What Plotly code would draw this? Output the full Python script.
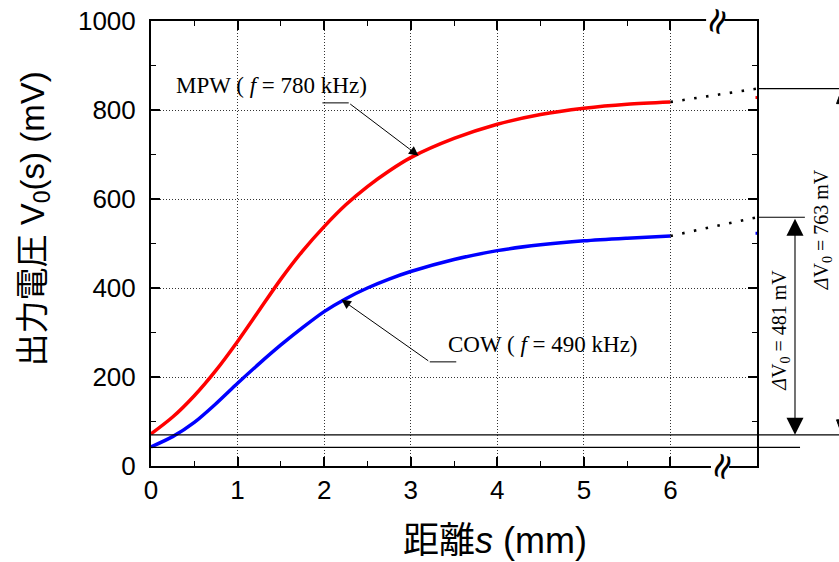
import plotly.graph_objects as go

# ---- data ----
s_mm = [0, 0.25, 0.5, 0.75, 1.0, 1.25, 1.5, 1.75, 2.0, 2.25, 2.5, 2.75, 3.0,
        3.5, 4.0, 4.5, 5.0, 5.5, 6.0]
mpw_mv = [72, 110, 158, 215, 280, 350, 420, 483, 538, 587, 628, 663, 693,
          736, 768, 790, 804, 813, 818]
cow_mv = [43, 66, 98, 140, 186, 230, 272, 311, 347, 376, 400, 420, 437,
          464, 484, 497, 506, 512, 517]

ext_s = [6, 7]
mpw_ext = [818, 848]
cow_ext = [517, 559]

stub_s = [7]
mpw_stub = [828]
cow_stub = [523]

low_levels = [70, 42]      # MPW, COW start levels
high_levels = [848, 559]   # MPW, COW saturated levels
delta_labels = ["<i>Δ</i>V<sub>0</sub> = 763 mV", "<i>Δ</i>V<sub>0</sub> = 481 mV"]

x_ticks = [0, 1, 2, 3, 4, 5, 6]
x_minor = [0.5, 1.5, 2.5, 3.5, 4.5, 5.5]
y_ticks = [0, 200, 400, 600, 800, 1000]

RED = "#ff0000"
BLUE = "#0000ff"
SANS = "Liberation Sans, Arial, Noto Sans CJK JP"
SERIF = "Liberation Serif, Times New Roman, serif"

fig = go.Figure()

fig.add_trace(go.Scatter(x=s_mm, y=mpw_mv, mode="lines",
                         line=dict(color=RED, width=3.5, shape="spline", smoothing=0.8),
                         showlegend=False))
fig.add_trace(go.Scatter(x=s_mm, y=cow_mv, mode="lines",
                         line=dict(color=BLUE, width=3.5, shape="spline", smoothing=0.8),
                         showlegend=False))
for ys in (mpw_ext, cow_ext):
    fig.add_trace(go.Scatter(x=ext_s, y=ys, mode="lines",
                             line=dict(color="black", width=2.6, dash="2.5px,9.5px"),
                             showlegend=False))
fig.add_trace(go.Scatter(x=stub_s, y=mpw_stub, mode="markers", cliponaxis=False,
                         marker=dict(color=RED, size=3, symbol="square"), showlegend=False))
fig.add_trace(go.Scatter(x=stub_s, y=cow_stub, mode="markers", cliponaxis=False,
                         marker=dict(color=BLUE, size=3, symbol="square"), showlegend=False))

shapes = []
LW = dict(color="black", width=1.2)
shapes.append(dict(type="line", xref="paper", yref="y", x0=0, x1=1.25,
                   y0=low_levels[0], y1=low_levels[0], line=LW))
shapes.append(dict(type="line", xref="paper", yref="y", x0=0, x1=1.071,
                   y0=low_levels[1], y1=low_levels[1], line=LW))
shapes.append(dict(type="line", xref="paper", yref="y", x0=1, x1=1.25,
                   y0=high_levels[0], y1=high_levels[0], line=LW))
shapes.append(dict(type="line", xref="paper", yref="y", x0=1, x1=1.079,
                   y0=high_levels[1], y1=high_levels[1], line=LW))
# leader lines under labels
shapes.append(dict(type="line", xref="x", yref="y", x0=1.98, x1=2.284, y0=816, y1=816,
                   line=dict(color="black", width=1)))
shapes.append(dict(type="line", xref="x", yref="y", x0=3.22, x1=3.526, y0=234, y1=234,
                   line=dict(color="black", width=1)))
# gaps in the frame for the axis-break marks
for gx0, gx1, gy in ((0.924, 0.954, 0.0), (0.916, 0.946, 1.0)):
    shapes.append(dict(type="line", xref="paper", yref="paper", x0=gx0, x1=gx1, y0=gy, y1=gy,
                       line=dict(color="white", width=5), layer="above"))

# second (partly off-page) double arrow drawn as shapes
ARX = 1.1403               # paper x of the arrow shaft
HW = 5.5 / 606             # half width of head (paper)
HL = 15 / 0.445            # head length (mV)
lo, hi = low_levels[0], high_levels[0]
shapes.append(dict(type="line", xref="paper", yref="y", x0=ARX, x1=ARX, y0=lo + HL, y1=hi - HL,
                   line=dict(color="black", width=1.1)))
shapes.append(dict(type="path", xref="paper", yref="y", fillcolor="black",
                   line=dict(color="black", width=1),
                   path=f"M {ARX},{lo} L {ARX - HW},{lo + HL} L {ARX + HW},{lo + HL} Z"))
shapes.append(dict(type="path", xref="paper", yref="y", fillcolor="black",
                   line=dict(color="black", width=1),
                   path=f"M {ARX},{hi} L {ARX - HW},{hi - HL} L {ARX + HW},{hi - HL} Z"))

ann = []
ann.append(dict(x=3.09, y=697, xref="x", yref="y", ax=2.284, ay=816, axref="x", ayref="y",
                text="", showarrow=True, arrowhead=2, arrowsize=1.9, arrowwidth=1,
                arrowcolor="black", standoff=0))
ann.append(dict(x=2.2, y=374, xref="x", yref="y", ax=3.22, ay=234, axref="x", ayref="y",
                text="", showarrow=True, arrowhead=2, arrowsize=1.9, arrowwidth=1,
                arrowcolor="black", standoff=0))
ann.append(dict(x=1.396, y=854, xref="x", yref="y", showarrow=False,
                xanchor="center", yanchor="middle",
                text="MPW ( <i>f</i> = 780 kHz)", font=dict(family=SERIF, size=23, color="black")))
ann.append(dict(x=4.533, y=272, xref="x", yref="y", showarrow=False,
                xanchor="center", yanchor="middle",
                text="COW ( <i>f</i> = 490 kHz)", font=dict(family=SERIF, size=23, color="black")))
# first double arrow for delta V
ann.append(dict(x=1.0627, y=low_levels[0], xref="paper", yref="y",
                ax=0, ay=high_levels[1], axref="pixel", ayref="y",
                text="", showarrow=True, arrowside="end+start", arrowhead=2, startarrowhead=2,
                arrowsize=3.1, startarrowsize=3.1, arrowwidth=1.1, arrowcolor="black",
                standoff=0, startstandoff=0))
ann.append(dict(x=1.1073, y=530, xref="paper", yref="y", showarrow=False, textangle=-90,
                xanchor="center", yanchor="middle",
                text=delta_labels[0], font=dict(family=SERIF, size=20, color="black")))
ann.append(dict(x=1.0396, y=306, xref="paper", yref="y", showarrow=False, textangle=-90,
                xanchor="center", yanchor="middle",
                text=delta_labels[1], font=dict(family=SERIF, size=20, color="black")))
# axis break symbols
for bx, by in ((0.9406, 0.0), (0.9323, 1.0)):
    ann.append(dict(x=bx, y=by, xref="paper", yref="paper", showarrow=False, textangle=-70,
                    xanchor="center", yanchor="middle", text="≈",
                    font=dict(family="DejaVu Sans", size=36, color="black")))
# axis titles
ann.append(dict(x=-0.1914, y=0.554, xref="paper", yref="paper", showarrow=False, textangle=-90,
                xanchor="center", yanchor="middle",
                text="出力電圧 V<sub>0</sub>(s) (mV)", font=dict(family=SANS, size=33, color="black")))
ann.append(dict(x=0.5677, y=-0.1685, xref="paper", yref="paper", showarrow=False,
                xanchor="center", yanchor="middle",
                text="距離<i>s</i> (mm)", font=dict(family=SANS, size=36, color="black")))

fig.update_layout(
    width=839, height=562,
    margin=dict(l=151, r=82, t=21, b=96, autoexpand=False),
    paper_bgcolor="white", plot_bgcolor="white",
    font=dict(family=SANS, color="black"),
    shapes=shapes, annotations=ann, showlegend=False,
)
fig.update_xaxes(range=[0, 7], tickmode="array", tickvals=x_ticks,
                 ticks="inside", ticklen=9, tickwidth=1.5, tickcolor="black",
                 minor=dict(tickmode="array", tickvals=x_minor, ticks="inside", ticklen=5,
                            tickwidth=1.2, tickcolor="black", showgrid=False),
                 showline=True, linewidth=2, linecolor="black", mirror="ticks",
                 showgrid=True, gridcolor="#333", gridwidth=1, griddash="1px,2px",
                 zeroline=False, tickfont=dict(family=SANS, size=26, color="black"),
                 ticklabelstandoff=0, automargin=False)
fig.update_yaxes(range=[0, 1000], tickmode="array", tickvals=y_ticks,
                 ticks="inside", ticklen=9, tickwidth=1.5, tickcolor="black",
                 minor=dict(tickmode="linear", tick0=0, dtick=100, ticks="inside", ticklen=5,
                            tickwidth=1.2, tickcolor="black", showgrid=False),
                 showline=True, linewidth=2, linecolor="black", mirror="ticks",
                 showgrid=True, gridcolor="#333", gridwidth=1, griddash="1px,2px",
                 zeroline=False, tickfont=dict(family=SANS, size=26, color="black"),
                 ticklabelstandoff=8, automargin=False)

fig.write_html("out.html", config={"displayModeBar": False},
               post_script="document.body.style.margin='0';document.body.style.overflow='hidden';")
